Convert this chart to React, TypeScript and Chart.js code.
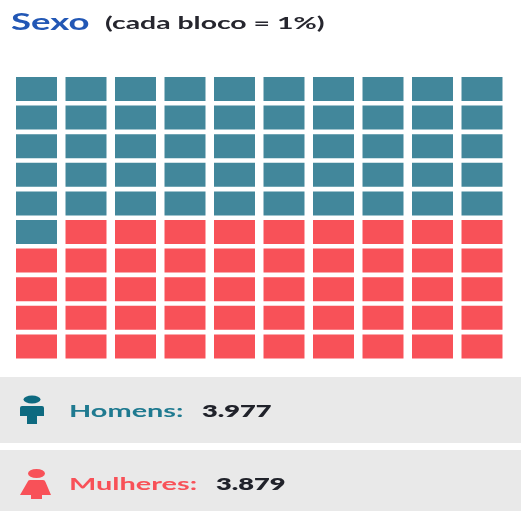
import React, { useEffect, useRef } from "react";
import { Chart, registerables } from "chart.js";

Chart.register(...registerables);

const columns = ["1", "2", "3", "4", "5", "6", "7", "8", "9", "10"];
const rows = [0, 1, 2, 3, 4, 5, 6, 7, 8, 9];
const homensBlocos = 51;
const mulheresBlocos = 49;
const homensTotal = "3.977";
const mulheresTotal = "3.879";
const TEAL = "#42879b";
const RED = "#f85158";
const FONT = "Lato, 'Open Sans', sans-serif";

function Label(props: { x: number; y: number; sx: number; size: number; color: string; weight: number; text: string }) {
  return (
    <div
      style={{
        position: "absolute",
        left: props.x,
        top: props.y,
        fontFamily: FONT,
        fontSize: props.size,
        fontWeight: props.weight,
        color: props.color,
        whiteSpace: "pre",
        lineHeight: "20px",
        transform: `scaleX(${props.sx})`,
        transformOrigin: "left center",
        filter: "blur(0.4px)",
      }}
    >
      {props.text}
    </div>
  );
}

export default function App() {
  const ref = useRef<HTMLCanvasElement>(null);
  useEffect(() => {
    const datasets = rows.map((r) => ({
      label: `Linha ${r + 1}`,
      data: columns.map(() => [r + 0.08, r + 0.92]),
      backgroundColor: columns.map((_, c) => (r * columns.length + c < homensBlocos ? TEAL : RED)),
      categoryPercentage: 1,
      barPercentage: 0.828,
      grouped: false,
    }));
    const chart = new Chart(ref.current!, {
      type: "bar",
      data: { labels: columns, datasets: datasets as any },
      options: {
        responsive: false,
        animation: false,
        layout: { padding: { left: 11.75, right: 14.25, top: 74.7, bottom: 9.3 } },
        plugins: { legend: { display: false }, tooltip: { enabled: false } },
        scales: {
          x: { display: false },
          y: { display: false, reverse: true, min: 0, max: (homensBlocos + mulheresBlocos) / 10 },
        },
      },
    });
    return () => chart.destroy();
  }, []);

  return (
    <div style={{ position: "fixed", left: 0, top: 0, width: 521, height: 511, background: "#fff", overflow: "hidden" }}>
      <Label x={11} y={12} sx={1.66} size={22} color="#2257b5" weight={700} text="Sexo" />
      <Label x={105} y={13} sx={1.67} size={17} color="#26262e" weight={700} text="(cada bloco = 1%)" />
      <canvas ref={ref} width={521} height={370} style={{ position: "absolute", left: 0, top: 0, display: "block" }} />
      <div style={{ position: "absolute", left: 0, top: 377, width: 521, height: 66, background: "#e9e9e9" }} />
      <div style={{ position: "absolute", left: 0, top: 450, width: 521, height: 61, background: "#e9e9e9" }} />
      <svg width={521} height={511} style={{ position: "absolute", left: 0, top: 0 }}>
        <ellipse cx={32} cy={399.5} rx={8.5} ry={4} fill="#0e6a80" />
        <path d="M22 406 H42 Q44 406 44 408 V416 H37 V424 H27 V416 H20 V408 Q20 406 22 406 Z" fill="#0e6a80" />
        <ellipse cx={36.5} cy={473.5} rx={8.5} ry={4.5} fill="#f85158" />
        <path d="M30 480 H43 Q45 480 45.500 482 L51 495 H42 V499 H31 V495 H20 L27.500 482 Q28 480 30 480 Z" fill="#f85158" />
      </svg>
      <Label x={69} y={401} sx={1.7} size={17} color="#1f7a90" weight={700} text="Homens:" />
      <Label x={202} y={401} sx={1.6} size={17} color="#20222a" weight={800} text={homensTotal} />
      <Label x={69} y={474} sx={1.7} size={17} color="#f85158" weight={700} text="Mulheres:" />
      <Label x={216} y={474} sx={1.6} size={17} color="#20222a" weight={800} text={mulheresTotal} />
    </div>
  );
}

void mulheresBlocos;
